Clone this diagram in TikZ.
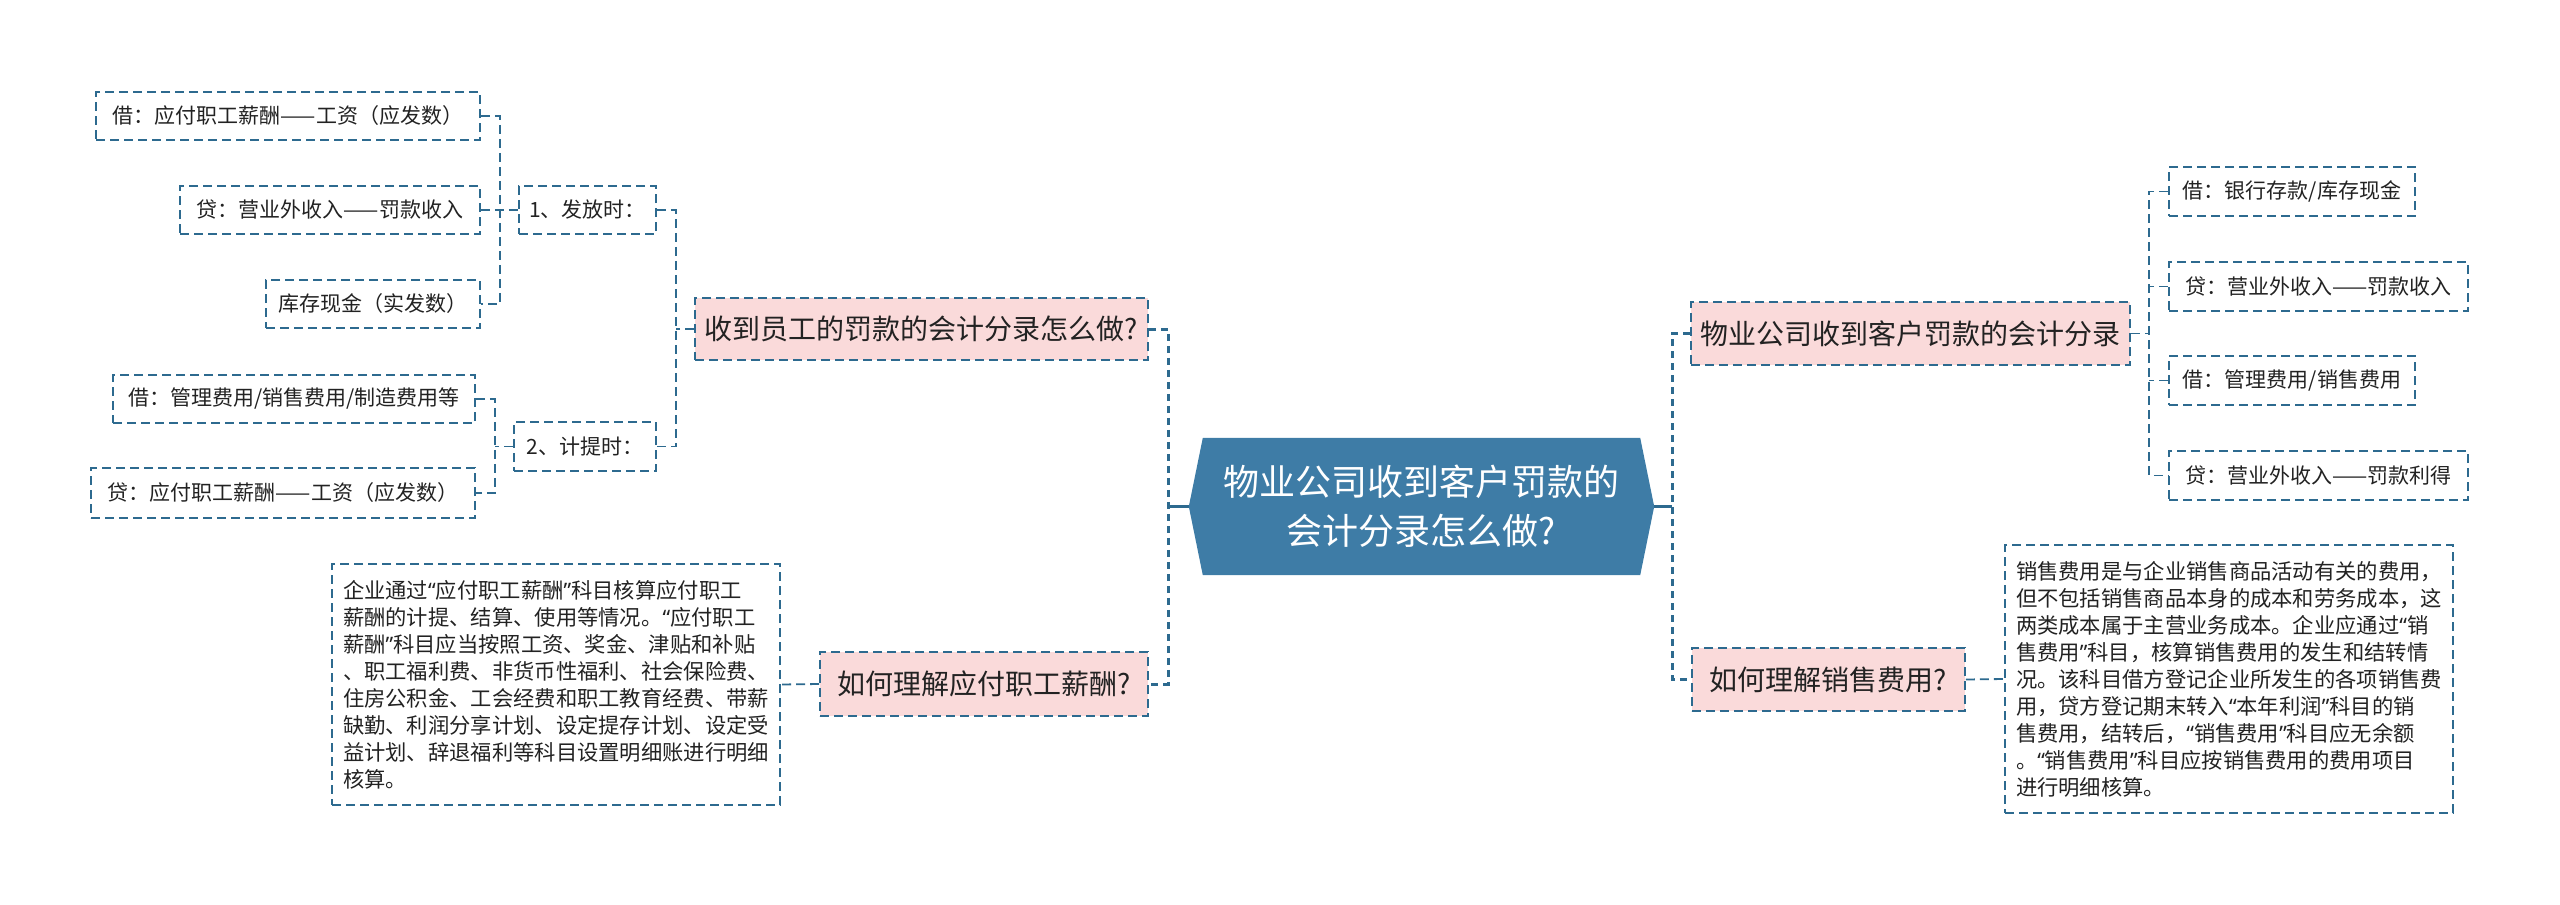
\documentclass[tikz,border=0pt]{standalone}
\usepackage{fontspec}
\setmainfont{Noto Sans CJK SC}
\newfontfamily\latinq{Noto Sans}
\newcommand\myqo{{\latinq “}}
\newcommand\myqc{{\latinq ”}}
\usetikzlibrary{backgrounds}
\definecolor{lc}{HTML}{2D6A8F}
\definecolor{rootfill}{HTML}{3E7CA6}
\definecolor{pinkfill}{HTML}{FADADA}
\definecolor{tc}{HTML}{222222}
\tikzset{
  boxbase/.style={rectangle, draw=lc, line width=1.8pt, dash pattern=on 9pt off 5pt, inner sep=0pt, text=tc},
  leaf/.style={boxbase, minimum height=48pt, font=\fontsize{21}{26}\selectfont},
  topic/.style={boxbase, fill=pinkfill, font=\fontsize{28}{34}\selectfont},
  para/.style={boxbase, align=left, font=\fontsize{21.3}{27}\selectfont},
  conn/.style={draw=lc, line width=1.8pt, dash pattern=on 9pt off 5pt},
  trunk/.style={draw=lc, line width=3pt, dash pattern=on 7pt off 5pt},
  solidc/.style={draw=lc, line width=3pt},
}
\begin{document}
\begin{tikzpicture}[x=1pt,y=-1pt]
\useasboundingbox (0,0) rectangle (2560,905);
% root
\node[rectangle, minimum width=465pt, minimum height=137pt, inner sep=0pt, text=white, align=center,
  font=\fontsize{36}{49}\selectfont] (root) at (1421.5,506.5) {物业公司收到客户罚款的\\会计分录怎么做?};
\begin{scope}[on background layer]
\fill[rootfill] ([xshift=14pt]root.north west) -- ([xshift=-14pt]root.north east) -- (root.east)
  -- ([xshift=-14pt]root.south east) -- ([xshift=14pt]root.south west) -- (root.west) -- cycle;
\end{scope}
% left topics
\node[topic, minimum width=453pt, minimum height=62pt] (q1) at (921.5,329) {收到员工的罚款的会计分录怎么做?};
\node[topic, minimum width=328pt, minimum height=64pt] (q2) at (984,684) {如何理解应付职工薪酬?};
% sub items
\node[leaf, minimum width=137pt] (s1) at (587.5,210) {1、发放时：};
\node[leaf, minimum width=142pt, minimum height=49pt] (s2) at (585,446.5) {2、计提时：};
% leaves left
\node[leaf, minimum width=384pt] (l1) at (288,116) {借：应付职工薪酬——工资（应发数）};
\node[leaf, minimum width=300pt] (l2) at (330,210) {贷：营业外收入——罚款收入};
\node[leaf, minimum width=214pt] (l3) at (373,304) {库存现金（实发数）};
\node[leaf, minimum width=362pt] (l4) at (294,399) {借：管理费用/销售费用/制造费用等};
\node[leaf, minimum width=384pt, minimum height=50pt] (l5) at (283,493) {贷：应付职工薪酬——工资（应发数）};
% left paragraph
\node[para, minimum width=448pt, minimum height=241pt] (t1) at (556,684.5) {企业通过\myqo 应付职工薪酬\myqc 科目核算应付职工\\薪酬的计提、结算、使用等情况。\myqo 应付职工\\薪酬\myqc 科目应当按照工资、奖金、津贴和补贴\\、职工福利费、非货币性福利、社会保险费、\\住房公积金、工会经费和职工教育经费、带薪\\缺勤、利润分享计划、设定提存计划、设定受\\益计划、辞退福利等科目设置明细账进行明细\\核算。};
% right topics
\node[topic, minimum width=439pt, minimum height=63pt] (r1) at (1910.5,333.5) {物业公司收到客户罚款的会计分录};
\node[topic, minimum width=273pt, minimum height=63pt] (r2) at (1828.5,679.5) {如何理解销售费用?};
% right leaves
\node[leaf, minimum width=246pt, minimum height=49pt] (ra) at (2292,191.5) {借：银行存款/库存现金};
\node[leaf, minimum width=299pt, minimum height=49pt] (rb) at (2318.5,286.5) {贷：营业外收入——罚款收入};
\node[leaf, minimum width=246pt, minimum height=49pt] (rc) at (2292,380.5) {借：管理费用/销售费用};
\node[leaf, minimum width=299pt, minimum height=49pt] (rd) at (2318.5,475.5) {贷：营业外收入——罚款利得};
% right paragraph
\node[para, minimum width=448pt, minimum height=268pt] (t2) at (2229,679) {销售费用是与企业销售商品活动有关的费用，\\但不包括销售商品本身的成本和劳务成本，这\\两类成本属于主营业务成本。企业应通过\myqo 销\\售费用\myqc 科目，核算销售费用的发生和结转情\\况。该科目借方登记企业所发生的各项销售费\\用，贷方登记期末转入\myqo 本年利润\myqc 科目的销\\售费用，结转后，\myqo 销售费用\myqc 科目应无余额\\。\myqo 销售费用\myqc 科目应按销售费用的费用项目\\进行明细核算。};
% junction coordinates
\coordinate (lt) at (1168,506.5);
\coordinate (rt) at (1672,506.5);
\coordinate (sx) at (676,329);
\coordinate (ja) at (500,210);
\coordinate (jb) at (495,446.5);
\coordinate (jc) at (2149,333.5);
% connectors
\draw[solidc] (root.west) -- (lt);
\draw[solidc] (root.east) -- (rt);
\draw[trunk] (q1.east) -- (q1.east -| lt) -- (q2.east -| lt) -- (q2.east);
\draw[trunk] (r1.west) -- (r1.west -| rt) -- (r2.west -| rt) -- (r2.west);
\draw[conn] (q1.west) -- (sx);
\draw[conn] (s1.east) -- (s1.east -| sx) -- (s2.east -| sx) -- (s2.east);
\draw[conn] (l1.east) -- (l1.east -| ja) -- (l3.east -| ja) -- (l3.east);
\draw[conn] (l2.east) -- (s1.west);
\draw[conn] (l4.east) -- (l4.east -| jb) -- (l5.east -| jb) -- (l5.east);
\draw[conn] (s2.west) -- (jb);
\draw[conn] (q2.west) -- (t1.east);
\draw[conn] (r1.east) -- (jc);
\draw[conn] (ra.west) -- (ra.west -| jc) -- (rd.west -| jc) -- (rd.west);
\draw[conn] (rb.west) -- (rb.west -| jc);
\draw[conn] (rc.west) -- (rc.west -| jc);
\draw[conn] (r2.east) -- (t2.west);
\end{tikzpicture}
\end{document}
